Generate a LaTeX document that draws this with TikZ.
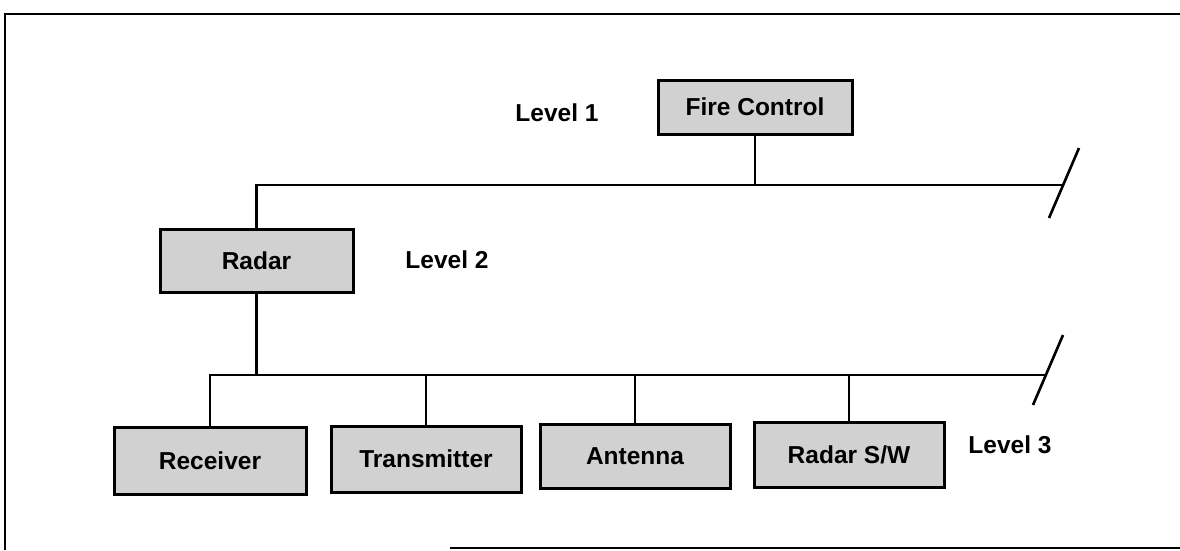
\documentclass[tikz,border=0pt]{standalone}
\usepackage{fontspec}
\setmainfont{Liberation Sans}
\begin{document}
\begin{tikzpicture}[x=1pt,y=-1pt,
  box/.style={draw, line width=3pt, fill=black!18, inner sep=0pt,
    minimum width=192pt, minimum height=64pt,
    font=\fontsize{24.5}{27}\selectfont\bfseries},
  lbl/.style={inner sep=0pt, font=\fontsize{24.5}{27}\selectfont\bfseries},
  conn/.style={line width=2.6pt},
  frame/.style={line width=2.6pt}]
\useasboundingbox (0,0) rectangle (1180,550);
% frame
\draw[frame] (5,550) -- (5,14) -- (1180,14);
\draw[frame] (450,548) -- (1180,548);
% nodes
\node[box, minimum width=194pt, minimum height=54pt] (fc) at (755,107) {Fire Control};
\node[box, minimum width=193pt, minimum height=63pt] (radar) at (256.5,260.5) {Radar};
\node[box, minimum height=67pt] (rcv) at (210,460.5) {Receiver};
\node[box, minimum width=190pt, minimum height=66pt] (tx) at (426,459) {Transmitter};
\node[box, minimum width=190pt, minimum height=64pt] (ant) at (635,456) {Antenna};
\node[box, minimum width=190pt, minimum height=65pt] (sw) at (849,454.5) {Radar S/W};
\node[lbl] (l1) at (557,113) {Level 1};
\node[lbl] (l2) at (447,260) {Level 2};
\node[lbl] (l3) at (1010,445) {Level 3};
% bus coordinates
\coordinate (b1r) at (1063,185);
\coordinate (b2r) at (1047,375);
\coordinate (s1a) at (1079,148);
\coordinate (s1b) at (1049,218);
\coordinate (s2a) at (1063,335);
\coordinate (s2b) at (1033,405);
% level 2 bus
\draw[conn] (radar.north) |- (b1r);
\draw[conn] (fc.south) -- (fc.south |- b1r);
\draw[conn] (s1a) -- (s1b);
% level 3 bus
\draw[conn] (rcv.north) |- (b2r);
\draw[conn] (radar.south) -- (radar.south |- b2r);
\draw[conn] (tx.north) -- (tx.north |- b2r);
\draw[conn] (ant.north) -- (ant.north |- b2r);
\draw[conn] (sw.north) -- (sw.north |- b2r);
\draw[conn] (s2a) -- (s2b);
\end{tikzpicture}
\end{document}
